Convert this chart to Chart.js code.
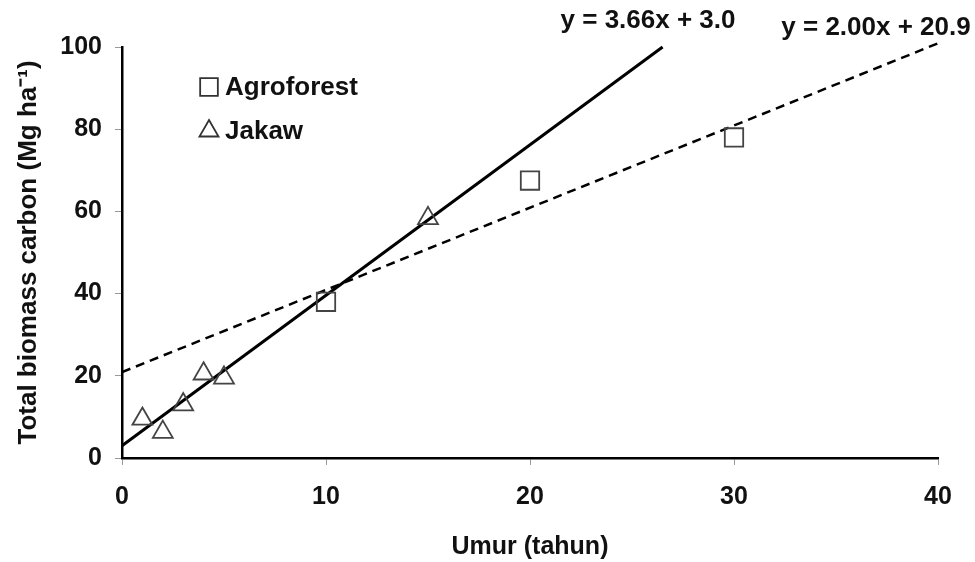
<!DOCTYPE html>
<html>
<head>
<meta charset="utf-8">
<script src="https://cdn.jsdelivr.net/npm/chart.js@4/dist/chart.umd.min.js"></script>
<style>
  html, body { margin: 0; padding: 0; background: #fff; }
  #wrap { width: 975px; height: 562px; }
</style>
</head>
<body>
<div id="wrap"><canvas id="biomassChart" width="975" height="562"></canvas></div>
<script>
// observed plots
const agroAge = [10, 20, 30];
const agroCarbon = [38, 67.5, 78];
const jakawAge = [1, 2, 3, 4, 5, 15];
const jakawCarbon = [9.5, 6.3, 13, 20.5, 19.5, 58.3];

// regression lines (end points)
const agroFitX = [0, 26.5];
const agroFitY = [3.0, 100];
const jakawFitX = [0, 40];
const jakawFitY = [20.9, 100.9];

const xTicks = [0, 10, 20, 30, 40];
const yTicks = [0, 20, 40, 60, 80, 100];

const FONT = "'Liberation Sans', Arial, sans-serif";

function pts(xs, ys) {
  return xs.map((x, i) => ({ x: x, y: ys[i] }));
}

// legend + equations drawn inside the plot
const annotations = {
  id: 'annotations',
  afterDraw(chart) {
    const ctx = chart.ctx;
    ctx.save();
    ctx.font = 'bold 26px ' + FONT;
    ctx.textBaseline = 'middle';
    ctx.textAlign = 'center';
    ctx.fillStyle = '#111';
    ctx.fillText('y = 3.66x + 3.0', 648, 21);
    ctx.fillText('y = 2.00x + 20.9', 876, 28);

    const items = [
      { label: 'Agroforest', style: 'rect', radius: 12.5, y: 87 },
      { label: 'Jakaw', style: 'triangle', radius: 11, y: 131 }
    ];
    items.forEach(it => {
      ctx.fillStyle = 'rgba(255,255,255,0)';
      ctx.strokeStyle = '#333';
      ctx.lineWidth = 1.8;
      Chart.helpers.drawPoint(ctx, { pointStyle: it.style, radius: it.radius, borderWidth: 1.8 }, 209, it.y);
      ctx.fillStyle = '#111';
      ctx.textAlign = 'left';
      ctx.fillText(it.label, 225, it.y + 1);
    });
    ctx.restore();
  }
};

new Chart(document.getElementById('biomassChart'), {
  type: 'scatter',
  data: {
    datasets: [
      {
        label: 'Agroforest',
        data: pts(agroAge, agroCarbon),
        pointStyle: 'rect',
        pointRadius: 13,
        pointBorderWidth: 1.8,
        pointBorderColor: '#444',
        pointBackgroundColor: 'rgba(255,255,255,0)',
        showLine: false
      },
      {
        label: 'Jakaw',
        data: pts(jakawAge, jakawCarbon),
        pointStyle: 'triangle',
        pointRadius: 11.5,
        pointBorderWidth: 1.8,
        pointBorderColor: '#444',
        pointBackgroundColor: 'rgba(255,255,255,0)',
        showLine: false
      },
      {
        label: 'Agroforest fit',
        data: pts(agroFitX, agroFitY),
        showLine: true,
        borderColor: '#000',
        borderWidth: 3,
        pointRadius: 0,
        clip: false
      },
      {
        label: 'Jakaw fit',
        data: pts(jakawFitX, jakawFitY),
        showLine: true,
        borderColor: '#000',
        borderWidth: 2.5,
        borderDash: [9, 6],
        pointRadius: 0,
        clip: false
      }
    ]
  },
  options: {
    responsive: false,
    animation: false,
    layout: { padding: { top: 47, right: 37, left: 0, bottom: 0 } },
    plugins: {
      legend: { display: false },
      tooltip: { enabled: false }
    },
    scales: {
      x: {
        type: 'linear',
        min: 0,
        max: 40,
        afterFit(scale) { scale.height = 104; },
        afterBuildTicks(scale) { scale.ticks = xTicks.map(v => ({ value: v })); },
        border: { display: true, color: '#000', width: 2.5 },
        grid: { drawOnChartArea: false, drawTicks: true, tickLength: 7, color: '#999' },
        ticks: { color: '#111', font: { family: FONT, size: 25, weight: 'bold' }, padding: 17 },
        title: {
          display: true,
          text: 'Umur (tahun)',
          color: '#111',
          font: { family: FONT, size: 25, weight: 'bold' },
          padding: { top: 0, bottom: 0 }
        }
      },
      y: {
        type: 'linear',
        min: 0,
        max: 100,
        afterFit(scale) { scale.width = 122; },
        afterBuildTicks(scale) { scale.ticks = yTicks.map(v => ({ value: v })); },
        border: { display: true, color: '#000', width: 2.5 },
        grid: { drawOnChartArea: false, drawTicks: true, tickLength: 7, color: '#999' },
        ticks: { color: '#111', font: { family: FONT, size: 25, weight: 'bold' }, padding: 13 },
        title: {
          display: true,
          text: 'Total biomass carbon (Mg ha⁻¹)',
          color: '#111',
          font: { family: FONT, size: 26, weight: 'bold' },
          padding: { top: 13, bottom: 0 }
        }
      }
    }
  },
  plugins: [annotations]
});
</script>
</body>
</html>
